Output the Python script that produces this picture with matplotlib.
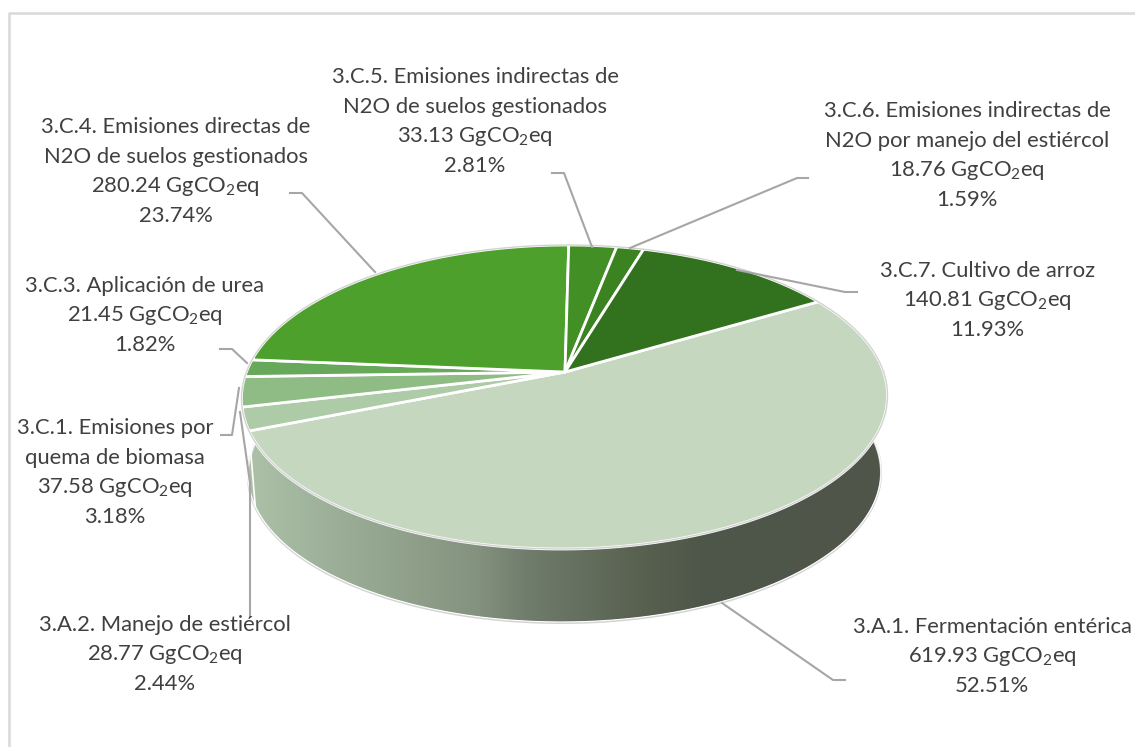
import numpy as np
import matplotlib
matplotlib.use('Agg')
import matplotlib.pyplot as plt
from matplotlib.colors import LinearSegmentedColormap

plt.rcParams['font.family'] = ['Lato', 'DejaVu Sans']
plt.rcParams['mathtext.default'] = 'regular'

# data, clockwise from the start of the biggest slice
names = [['3.A.1. Fermentación entérica'],
         ['3.A.2. Manejo de estiércol'],
         ['3.C.1. Emisiones por', 'quema de biomasa'],
         ['3.C.3. Aplicación de urea'],
         ['3.C.4. Emisiones directas de', 'N2O de suelos gestionados'],
         ['3.C.5. Emisiones indirectas de', 'N2O de suelos gestionados'],
         ['3.C.6. Emisiones indirectas de', 'N2O por manejo del estiércol'],
         ['3.C.7. Cultivo de arroz']]
values = [619.93, 28.77, 37.58, 21.45, 280.24, 33.13, 18.76, 140.81]
percents = ['52.51%', '2.44%', '3.18%', '1.82%', '23.74%', '2.81%', '1.59%', '11.93%']
colors = ['#c5d8bf', '#adcba6', '#8fbc85', '#68a85a', '#4ca02b', '#418f25', '#3a8320', '#32711d']

# label layout: centre x, y of the first line
label_pos = [(992, 627), (165, 625), (115, 428), (144.5, 286),
             (175.5, 127), (475, 77), (967, 111), (987.5, 271)]
leaders = [[(845, 680), (833, 680), (722, 603)],
           [(250, 617), (250, 483), (240, 412)],
           [(221, 435), (232, 435), (239, 388)],
           [(220, 349), (232, 349), (247, 363)],
           [(290, 193), (302, 193), (375, 272)],
           [(552, 173), (564, 173), (592, 247)],
           [(808, 178), (797, 178), (630, 248)],
           [(857, 292), (845, 292), (737, 270)]]

# pie projection
cx, cy = 565, 372
a, b, k = 318.6, 147.9, 0.1645
skew = 3
start_angle = 31
drop, shrink = 76.5, 0.98


def project(t, lower=False):
    u, v = np.cos(t), np.sin(t)
    x = (a * u + skew * v) / (1 + k * v)
    y = -b * v / (1 + k * v)
    if lower:
        return cx + shrink * x, cy + drop + shrink * y
    return cx + x, cy + y


fig = plt.figure(figsize=(11.35, 7.47), dpi=100)
ax = fig.add_axes([0, 0, 1, 1])

# wall with horizontal gradient
wall_cmap = LinearSegmentedColormap.from_list('wall', [
    (0.00, '#adc2a9'), (0.14, '#9cae98'), (0.36, '#84937f'), (0.44, '#707c6c'),
    (0.62, '#586150'), (0.72, '#4e5649'), (1.00, '#50574a')])
front = np.radians(np.linspace(170, 370, 300))
top_x, top_y = project(front)
low_x, low_y = project(front, True)
wall_x = np.concatenate([top_x, low_x[::-1]])
wall_y = np.concatenate([top_y, low_y[::-1]])
wall, = ax.fill(wall_x, wall_y, facecolor='none', edgecolor='none')
img = ax.imshow(np.linspace(0, 1, 256)[None, :], cmap=wall_cmap, aspect='auto',
                extent=(245, 885, 640, 380), zorder=1)
img.set_clip_path(wall)
ax.plot(low_x, low_y + 1, color='#d4d4d4', lw=1.5, zorder=2)
ax.plot(low_x, low_y, color='#ffffff', lw=0.8, zorder=2)

# top of the pie
edges = np.radians(start_angle - np.cumsum([0] + values) / sum(values) * 360)
for i in range(len(values)):
    t = np.linspace(edges[i], edges[i + 1], 200)
    xs, ys = project(t)
    ax.fill(np.r_[cx, xs], np.r_[cy, ys], facecolor=colors[i], edgecolor='white',
            lw=2, joinstyle='round', zorder=3)

# rim and slice edges on the wall
ring = np.radians(np.linspace(0, 360, 600))
ax.plot(*project(ring), color='#d2d2d2', lw=1, zorder=4)
for e in edges[1:4]:
    ex, ey = project(e)
    lx, ly = project(e, True)
    ax.plot([ex, lx], [ey, ly], color='white', lw=1.2, zorder=2)

# leaders and labels
for pts in leaders:
    ax.plot(*zip(*pts), color='#a6a6a6', lw=1.5, zorder=5, solid_joinstyle='round')

for i in range(len(values)):
    lines = names[i] + ['%.2f GgCO$_2$eq' % values[i], percents[i]]
    x, y = label_pos[i]
    for j, line in enumerate(lines):
        ax.text(x, y + j * 29.6, line, ha='center', va='center', fontsize=15.8,
                color='#404040', zorder=6)

# chart frame, only left and top show
ax.plot([8.5, 8.5, 1135], [747, 13, 13], color='#d9d9d9', lw=1.8, zorder=0)

ax.set_xlim(0, 1135)
ax.set_ylim(747, 0)
ax.axis('off')
fig.savefig('out.png', dpi=100)
